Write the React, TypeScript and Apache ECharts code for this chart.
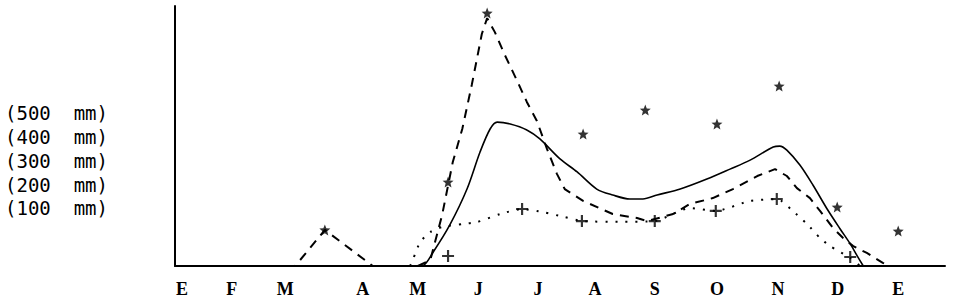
import React, { useEffect, useRef } from "react";
import * as echarts from "echarts";

// Month positions (in months from the start of the axis) and their letters
const monthPos = [0.12, 0.96, 1.86, 3.17, 4.1, 5.12, 6.13, 7.09, 8.1, 9.15, 10.18, 11.19, 12.21];
const monthLabels = ["E", "F", "M", "A", "M", "J", "J", "A", "S", "O", "N", "D", "E"];

// Scale labels on the left
const scaleValues = [100, 200, 300, 400, 500];
const scaleLabels = ["(100  mm)", "(200  mm)", "(300  mm)", "(400  mm)", "(500  mm)"];

// Dashed curve [month, mm]
const dashedData = [
  [0, 0], [2.03, 0], [2.53, 152], [3.34, 0], [4.1, 0], [4.31, 25], [4.51, 215], [4.69, 438],
  [4.85, 577], [5.01, 762], [5.18, 977], [5.27, 1044], [5.4, 985], [5.57, 888], [5.77, 783],
  [5.94, 691], [6.11, 611], [6.28, 493], [6.45, 387], [6.58, 324], [6.89, 274], [7.39, 219],
  [7.8, 202], [7.97, 189], [8.41, 219], [8.69, 261], [9.08, 286], [9.42, 324], [9.83, 379],
  [10.13, 408], [10.33, 379], [10.5, 328], [10.72, 286], [10.89, 232], [11.11, 160],
  [11.28, 118], [11.45, 84], [11.68, 55], [11.95, 13], [12.07, 0],
];

// Solid curve [month, mm]
const solidData = [
  [4.1, 0], [4.19, 2], [4.36, 59], [4.64, 173], [4.93, 324], [5.15, 480], [5.32, 577],
  [5.44, 606], [5.66, 598], [5.94, 573], [6.16, 535], [6.5, 451], [6.79, 396], [7.12, 324],
  [7.39, 299], [7.68, 282], [7.9, 282], [8.14, 299], [8.53, 324], [8.98, 366], [9.37, 408],
  [9.71, 446], [10.1, 501], [10.21, 505], [10.33, 488], [10.55, 425], [10.77, 341],
  [11.01, 240], [11.23, 156], [11.4, 93], [11.51, 46], [11.62, 0],
];

// Dotted curve [month, mm]
const dottedData = [
  [3.97, 0], [4.02, 29], [4.14, 101], [4.31, 143], [4.51, 164], [4.86, 177], [5.1, 185],
  [5.49, 219], [5.86, 240], [6.21, 227], [6.58, 206], [6.89, 189], [7.51, 186], [8.1, 189],
  [8.69, 244], [9.13, 232], [9.71, 274], [10.17, 282], [10.43, 232], [10.67, 177],
  [10.89, 118], [11.06, 84], [11.4, 34], [11.57, 0],
];

// Plus markers [month, mm]
const plusData = [
  [4.61, 42], [5.86, 240], [6.87, 189], [8.1, 189], [9.13, 232], [10.16, 282], [11.4, 38],
];

// Star markers [month, mm]
const starData = [
  [2.53, 152], [4.61, 354], [5.27, 1065], [6.89, 556], [7.94, 657], [9.15, 598],
  [10.2, 758], [11.18, 248], [12.21, 147],
];

const STAR = "path://M50,0 L63,33 L98,35 L71,57 L80,92 L50,73 L20,92 L29,57 L2,35 L37,33 Z";
const PLUS = "path://M4.1,0 H5.9 V4.1 H10 V5.9 H5.9 V10 H4.1 V5.9 H0 V4.1 H4.1 Z";

export default function App() {
  const ref = useRef<HTMLDivElement>(null);
  useEffect(() => {
    if (!ref.current) return;
    const chart = echarts.init(ref.current, null, { renderer: "svg" });
    chart.setOption({
      animation: false,
      backgroundColor: "#ffffff",
      grid: { left: 175, right: 8, top: 6, bottom: 41 },
      xAxis: {
        type: "value",
        min: 0,
        max: 13,
        axisLine: { show: true, lineStyle: { color: "#000", width: 2 } },
        axisTick: { show: false },
        splitLine: { show: false },
        axisLabel: {
          customValues: monthPos,
          formatter: (v: number) => {
            const i = monthPos.findIndex((p) => Math.abs(p - v) < 1e-6);
            return i >= 0 ? monthLabels[i] : "";
          },
          color: "#000",
          fontFamily: "Liberation Serif",
          fontWeight: "bold",
          fontSize: 18,
          margin: 14,
        },
      },
      yAxis: [
        {
          type: "value",
          min: 0,
          max: 1095,
          offset: 5,
          axisLine: { show: true, lineStyle: { color: "#000", width: 2 } },
          axisTick: { show: false },
          axisLabel: { show: false },
          splitLine: { show: false },
        },
        {
          type: "value",
          min: -143,
          max: 952,
          position: "left",
          axisLine: { show: false },
          axisTick: { show: false },
          splitLine: { show: false },
          axisLabel: {
            customValues: scaleValues,
            formatter: (v: number) => {
              const i = scaleValues.indexOf(v);
              return i >= 0 ? scaleLabels[i] : "";
            },
            align: "left",
            margin: 170,
            color: "#000",
            fontFamily: "DejaVu Sans Mono",
            fontSize: 19,
          },
        },
      ],
      series: [
        {
          type: "line",
          data: dashedData,
          showSymbol: false,
          lineStyle: { color: "#000", width: 2, type: [9, 7] },
          z: 2,
        },
        {
          type: "line",
          data: solidData,
          showSymbol: false,
          smooth: 0.3,
          lineStyle: { color: "#000", width: 1.6 },
          z: 2,
        },
        {
          type: "line",
          data: dottedData,
          showSymbol: false,
          smooth: 0.2,
          lineStyle: { color: "#000", width: 2, type: [2, 8] },
          z: 2,
        },
        {
          type: "scatter",
          data: plusData,
          symbol: PLUS,
          symbolSize: 12,
          itemStyle: { color: "#000" },
          z: 3,
        },
        {
          type: "scatter",
          data: starData,
          symbol: STAR,
          symbolSize: 11,
          itemStyle: { color: "#000" },
          z: 3,
        },
      ],
    });
    return () => chart.dispose();
  }, []);
  return (
    <div
      ref={ref}
      style={{ position: "fixed", left: 0, top: 0, width: 953, height: 307, background: "#fff" }}
    />
  );
}
